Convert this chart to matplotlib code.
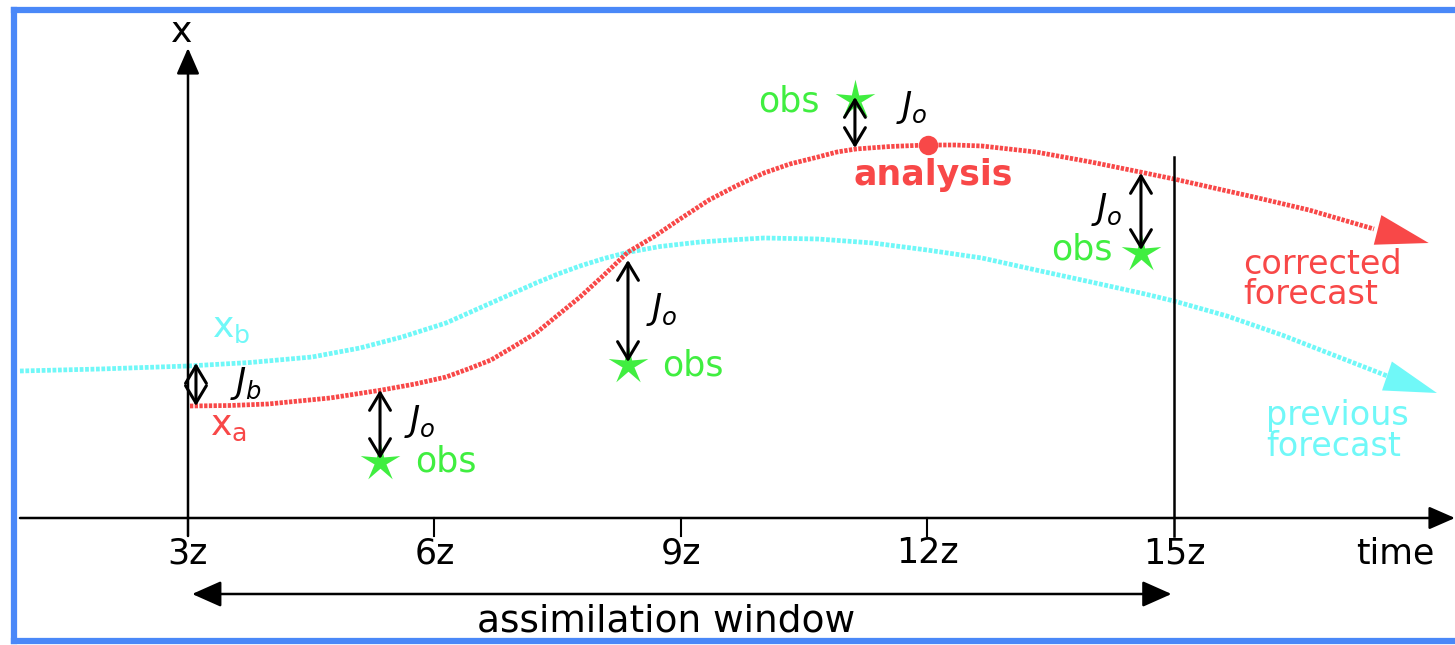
import matplotlib
matplotlib.use('Agg')
import matplotlib.pyplot as plt
from matplotlib.path import Path
from matplotlib.lines import Line2D

# 示意图: 4D-Var 同化窗口
RED = '#f84848'
CYAN = '#70f8f8'
GREEN = '#40ee40'
BLUE = '#4a88f8'

# 时间轴刻度 (小时)
tick_hours = [3, 6, 9, 12, 15]
tick_labels = ['3z', '6z', '9z', '12z', '15z']

# 上一次预报 (背景场 x_b)
prev_t = [0.955, 1.929, 3.0, 3.755, 4.509, 5.093, 5.604, 6.140, 6.687, 7.235,
          7.503, 7.771, 8.063, 8.343, 8.744, 9.231, 9.596, 10.010, 10.667, 11.336,
          11.994, 12.663, 13.320, 13.989, 14.647, 15.0, 15.645, 16.314, 16.971, 17.628]
prev_x = [147, 149, 152, 155.5, 161, 170, 181, 195, 215, 235,
          244, 252, 259.5, 265.5, 271.5, 276, 278, 280, 279, 275,
          268, 260, 248, 236, 224, 217, 202, 183, 162, 141]
prev_tip = (18.20, 125)

# 订正后的预报 (分析 x_a)
corr_t = [3.024, 3.511, 3.974, 4.728, 5.361, 5.763, 6.140, 6.408, 6.687, 6.955,
          7.235, 7.503, 7.771, 8.063, 8.355, 8.683, 8.988, 9.341, 9.669, 10.010,
          10.326, 10.667, 10.898, 11.129, 11.543, 11.994, 12.335, 12.663, 13.320,
          13.989, 14.647, 15.0, 15.486, 15.973, 16.643, 17.434]
corr_x = [112, 112.5, 114, 120, 128, 134, 141, 149, 158, 171,
          185, 203, 221, 243, 266, 282, 299, 318, 332, 345,
          354, 361, 366, 369, 371.5, 373, 373, 372, 366,
          356, 345, 339, 330, 321, 308, 289]
corr_tip = (18.10, 275)

analysis_pt = (12.006, 373)

# 观测: 时间, 值, 模式轨迹值
obs_t = [5.337, 8.355, 11.117, 14.598]
obs_x = [56, 153, 418, 265]
obs_model = [128, 258, 370, 345]

fig = plt.figure(figsize=(14.55, 6.45), dpi=100)
ax = fig.add_axes([0, 0, 1, 1])
ax.set_xlim(0.712, 18.42)
ax.set_ylim(-127, 518)
ax.axis('off')

# 曲线
ax.plot(prev_t, prev_x, color=CYAN, lw=3.4, ls=(0, (0.8, 0.35)), solid_capstyle='butt')
ax.plot(corr_t, corr_x, color=RED, lw=3.4, ls=(0, (0.7, 0.3)), solid_capstyle='butt')
head = '-|>,head_length=1.9,head_width=0.55'
ax.annotate('', xy=prev_tip, xytext=(prev_t[-1], prev_x[-1]),
            arrowprops=dict(arrowstyle=head, color=CYAN, lw=0, mutation_scale=20,
                            shrinkA=0, shrinkB=0))
ax.annotate('', xy=corr_tip, xytext=(corr_t[-1], corr_x[-1]),
            arrowprops=dict(arrowstyle=head, color=RED, lw=0, mutation_scale=20,
                            shrinkA=0, shrinkB=0))
ax.plot(*analysis_pt, 'o', color=RED, ms=14, mec='none')

# 坐标轴
ax.annotate('', xy=(18.42, 0), xytext=(0.955, 0),
            arrowprops=dict(arrowstyle='-|>,head_length=0.8,head_width=0.35', color='black',
                            lw=1.8, mutation_scale=20, shrinkA=0, shrinkB=0))
ax.annotate('', xy=(3, 470), xytext=(3, -18),
            arrowprops=dict(arrowstyle='-|>,head_length=0.8,head_width=0.35', color='black',
                            lw=1.8, mutation_scale=20, shrinkA=0, shrinkB=0))
for h in tick_hours[1:-1]:
    ax.plot([h, h], [0, -18], color='black', lw=1.5)
ax.plot([15, 15], [361, -18], color='black', lw=1.8)
for h, lab in zip(tick_hours, tick_labels):
    ax.text(h, -35, lab, ha='center', va='center', fontsize=25)
ax.text(17.69, -35, 'time', ha='center', va='center', fontsize=25)
ax.text(2.927, 486, 'x', ha='center', va='center', fontsize=26)

# 同化窗口
ax.annotate('', xy=(3.05, -76), xytext=(14.97, -76),
            arrowprops=dict(arrowstyle='<|-|>,head_length=0.9,head_width=0.4', color='black',
                            lw=1.8, mutation_scale=20, shrinkA=0, shrinkB=0))
ax.text(8.817, -104, 'assimilation window', ha='center', va='center', fontsize=27)

# 代价函数箭头
dbl = '<->,head_length=0.5,head_width=0.3'
star = Path.unit_regular_star(5, innerCircle=0.3)
for t, xo, xm in zip(obs_t, obs_x, obs_model):
    ax.annotate('', xy=(t, xo + 3), xytext=(t, xm),
                arrowprops=dict(arrowstyle=dbl, color='black', lw=2.2, mutation_scale=25,
                                shrinkA=0, shrinkB=0))
    ax.plot(t, xo, marker=star, color=GREEN, ms=30, mec='none')
ax.annotate('', xy=(3.097, 155), xytext=(3.097, 112),
            arrowprops=dict(arrowstyle=dbl, color='black', lw=2.2, mutation_scale=25,
                            shrinkA=0, shrinkB=0))

jo_pos = [(5.823, 96), (8.769, 208), (11.811, 410), (14.184, 308)]
for t, y in jo_pos:
    ax.text(t, y, r'$J_o$', ha='center', va='center', fontsize=25)
ax.text(3.706, 135, r'$J_b$', ha='center', va='center', fontsize=25)

obs_txt = [(5.763, 56, 'left'), (8.769, 153, 'left'), (10.691, 416, 'right'), (14.257, 268, 'right')]
for t, y, ha in obs_txt:
    ax.text(t, y, 'obs', ha=ha, va='center', fontsize=25, color=GREEN)

ax.text(3.292, 190, r'x$_\mathrm{b}$', ha='left', va='center', fontsize=26, color=CYAN)
ax.text(3.268, 92, r'x$_\mathrm{a}$', ha='left', va='center', fontsize=26, color=RED)
ax.text(12.067, 343, 'analysis', ha='center', va='center', fontsize=25,
        fontweight='bold', color=RED)
ax.text(15.839, 254, 'corrected', ha='left', va='center', fontsize=24, color=RED)
ax.text(15.839, 223, 'forecast', ha='left', va='center', fontsize=24, color=RED)
ax.text(16.119, 103, 'previous', ha='left', va='center', fontsize=24, color=CYAN)
ax.text(16.119, 72, 'forecast', ha='left', va='center', fontsize=24, color=CYAN)

# 蓝色边框
fx0, fy0, fy1 = 14 / 1455, 1 - 641 / 645, 1 - 10 / 645
for xs, ys in [([fx0, fx0], [fy0, fy1]), ([fx0, 1.0], [fy1, fy1]), ([fx0, 1.0], [fy0, fy0])]:
    fig.add_artist(Line2D(xs, ys, transform=fig.transFigure, color=BLUE, lw=4.5))

plt.savefig('out.png', dpi=100)
